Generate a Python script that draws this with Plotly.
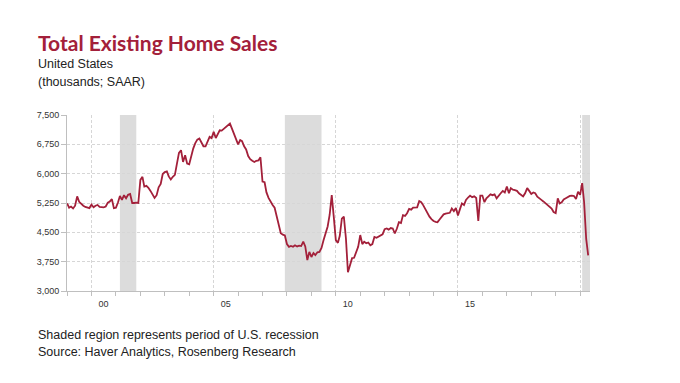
import plotly.graph_objects as go
import pandas as pd

# ---------------- data (thousands, SAAR), monthly from Jan 1999 ----------------
start_month = "1999-01-01"
sales_1999 = [5240, 5130, 5160, 5110, 5180, 5420, 5280, 5220, 5180, 5150, 5130, 5120]
sales_2000 = [5210, 5140, 5180, 5200, 5150, 5140, 5140, 5160, 5260, 5290, 5350, 5120]
sales_2001 = [5130, 5270, 5430, 5330, 5450, 5370, 5460, 5480, 5250, 5250, 5260, 5250]
sales_2002 = [5840, 5920, 5670, 5690, 5640, 5560, 5460, 5380, 5450, 5650, 5740, 5990]
sales_2003 = [6040, 6060, 5930, 5850, 5920, 5970, 6250, 6530, 6600, 6300, 6470, 6260]
sales_2004 = [6240, 6470, 6640, 6780, 6870, 6900, 6780, 6700, 6700, 6830, 6940, 6910]
sales_2005 = [7070, 6910, 7000, 7110, 7100, 7150, 7200, 7240, 7280, 7150, 7020, 6900]
sales_2006 = [6750, 6860, 6830, 6700, 6620, 6450, 6370, 6330, 6300, 6330, 6340, 6420]
sales_2007 = [5800, 5780, 5520, 5380, 5280, 5200, 5130, 4900, 4700, 4480, 4440, 4420]
sales_2008 = [4200, 4130, 4150, 4130, 4170, 4140, 4160, 4150, 4260, 4140, 3790, 4000]
sales_2009 = [3870, 3970, 3920, 3990, 4000, 4100, 4300, 4470, 4650, 4950, 5450, 4900]
sales_2010 = [4300, 4230, 4410, 4850, 4900, 4350, 3480, 3660, 3840, 3850, 3980, 4130]
sales_2011 = [4430, 4200, 4260, 4220, 4240, 4170, 4200, 4380, 4360, 4390, 4400, 4450]
sales_2012 = [4580, 4600, 4570, 4610, 4600, 4470, 4590, 4760, 4740, 4940, 4920, 4990]
sales_2013 = [5100, 5080, 5130, 5130, 5140, 5300, 5270, 5190, 5080, 4990, 4900, 4840]
sales_2014 = [4790, 4770, 4760, 4830, 4900, 4960, 4980, 5000, 5000, 5110, 5040, 5120]
sales_2015 = [4930, 5100, 5240, 5200, 5330, 5390, 5440, 5400, 5420, 5380, 4790, 5440]
sales_2016 = [5440, 5270, 5370, 5420, 5470, 5450, 5470, 5370, 5450, 5500, 5560, 5520]
sales_2017 = [5670, 5500, 5630, 5590, 5580, 5560, 5500, 5460, 5420, 5500, 5630, 5560]
sales_2018 = [5480, 5520, 5500, 5410, 5380, 5330, 5290, 5250, 5200, 5150, 5110, 5020]
sales_2019 = [4990, 5370, 5240, 5270, 5340, 5370, 5410, 5430, 5440, 5430, 5350, 5540]
sales_2020 = [5460, 5760, 5270, 4330, 3910]

sales = (sales_1999 + sales_2000 + sales_2001 + sales_2002 + sales_2003 + sales_2004 +
         sales_2005 + sales_2006 + sales_2007 + sales_2008 + sales_2009 + sales_2010 +
         sales_2011 + sales_2012 + sales_2013 + sales_2014 + sales_2015 + sales_2016 +
         sales_2017 + sales_2018 + sales_2019 + sales_2020)
dates = pd.date_range(start_month, periods=len(sales), freq="MS")

x_range = ["1998-12-31", "2020-05-28"]
recession_starts = ["2001-03-01", "2007-12-01", "2020-02-01"]
recession_ends = ["2001-11-01", "2009-06-01", x_range[1]]

year_ticks = [f"{y}-01-01" for y in range(1999, 2021)]
label_ticks = ["2000-01-01", "2005-01-01", "2010-01-01", "2015-01-01", "2020-01-01"]
label_text = ["00", "05", "10", "15", ""]

y_ticks = [3000, 3750, 4500, 5250, 6000, 6750, 7500]

# ---------------- styling ----------------
RED = "#A3203A"
TXT = "#222222"
AX = "#BFBFBF"
GRID = "#D6D6D6"

L, R, T, B = 67, 90, 115, 92
W, H = 680, 383
PW, PH = W - L - R, H - T - B


def px(x):
    return (x - L) / PW


def py(y):
    return (H - B - y) / PH


fig = go.Figure()
fig.add_trace(go.Scatter(x=dates, y=sales, mode="lines",
                         line=dict(color=RED, width=1.8), hoverinfo="skip",
                         showlegend=False))

for s, e in zip(recession_starts, recession_ends):
    fig.add_shape(type="rect", xref="x", yref="paper", x0=s, x1=e, y0=0, y1=1,
                  fillcolor="#DCDCDC", line=dict(width=0), layer="between")

fig.update_xaxes(
    type="date", range=x_range,
    tickmode="array", tickvals=label_ticks, ticktext=label_text,
    ticks="outside", ticklen=4, tickcolor=AX, ticklabelshift=12,
    tickfont=dict(family="Liberation Sans, Arial", size=9, color="#333333"),
    showgrid=True, gridcolor=GRID, griddash="3px,2px", gridwidth=1,
    showline=True, linecolor=AX, linewidth=1, zeroline=False,
    minor=dict(tickmode="array", tickvals=year_ticks, ticks="outside", ticklen=4,
               tickcolor=AX, showgrid=False),
)
fig.update_yaxes(
    range=[3000, 7500], tickmode="array", tickvals=y_ticks, tickformat=",",
    ticks="outside", ticklen=5, tickcolor=AX,
    tickfont=dict(family="Liberation Sans, Arial", size=9, color="#333333"),
    showgrid=True, gridcolor=GRID, griddash="3px,2px", gridwidth=1,
    showline=True, linecolor=AX, linewidth=1, zeroline=False,
)

annots = [
    dict(text="Total Existing Home Sales", x=px(36), y=py(43),
         font=dict(family="Lato", size=21, color=RED, weight="bold")),
    dict(text="United States", x=px(36), y=py(64),
         font=dict(family="Liberation Sans, Arial", size=12.5, color=TXT)),
    dict(text="(thousands; SAAR)", x=px(36), y=py(82),
         font=dict(family="Liberation Sans, Arial", size=12.5, color=TXT)),
    dict(text="Shaded region represents period of U.S. recession", x=px(36), y=py(335),
         font=dict(family="Liberation Sans, Arial", size=12.5, color=TXT)),
    dict(text="Source: Haver Analytics, Rosenberg Research", x=px(36), y=py(352),
         font=dict(family="Liberation Sans, Arial", size=12.5, color=TXT)),
]
for a in annots:
    fig.add_annotation(xref="paper", yref="paper", xanchor="left", yanchor="middle",
                       showarrow=False, **a)

fig.update_layout(
    width=W, height=H, margin=dict(l=L, r=R, t=T, b=B, pad=0),
    paper_bgcolor="white", plot_bgcolor="white",
    font=dict(family="Liberation Sans, Arial", color=TXT),
)

fig.write_html("out.html", config={"displayModeBar": False},
               post_script="document.body.style.margin='0';document.body.style.overflow='hidden';")
